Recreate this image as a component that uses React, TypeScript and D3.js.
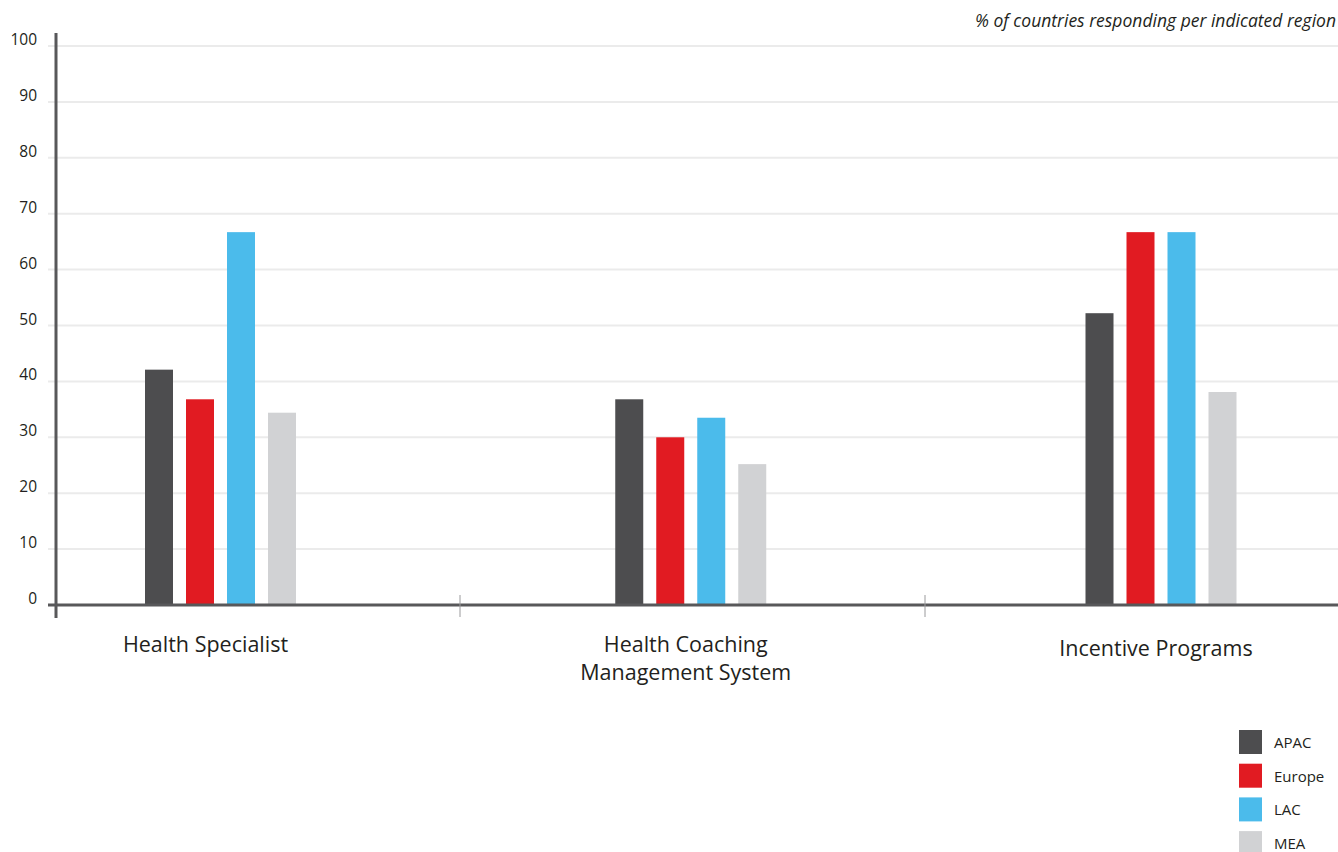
import React from "react";
import * as d3 from "d3";

const categories = ["Health Specialist", "Health Coaching\nManagement System", "Incentive Programs"];
const regions = ["APAC", "Europe", "LAC", "MEA"];
const apac = [42.1, 36.8, 52.2];
const europe = [36.8, 30.0, 66.7];
const lac = [66.7, 33.5, 66.7];
const mea = [34.4, 25.2, 38.1];
const yTicks = [0, 10, 20, 30, 40, 50, 60, 70, 80, 90, 100];
const colors = ["#4d4d4f", "#e11b22", "#4bbbeb", "#d1d2d4"];
const title = "% of countries responding per indicated region";

const W = 1338;
const H = 852;

export default function App() {
  const series = [apac, europe, lac, mea];
  const y = d3.scaleLinear().domain([0, 100]).range([605, 46]);
  const xGroup = d3.scalePoint<string>().domain(categories).range([220.5, 1161]);
  const xInner = d3.scaleBand<string>().domain(regions).range([-82, 82]).paddingInner(0);
  const bw = 28;
  const font = "'Open Sans', 'Noto Sans', sans-serif";
  const dividers = [460, 925];

  return (
    <svg width={W} height={H} style={{ position: "absolute", left: 0, top: 0, background: "#fff" }}>
      {yTicks.filter((t) => t > 0).map((t) => (
        <line key={"g" + t} x1={48} x2={W} y1={y(t)} y2={y(t)} stroke="#ebebeb" strokeWidth={2} />
      ))}
      {yTicks.map((t) => (
        <text key={"t" + t} x={37} y={y(t)} dy={-1} textAnchor="end" fontFamily={font} fontSize={15.5} fill="#231f20">
          {t}
        </text>
      ))}
      {categories.map((c, ci) =>
        series.map((s, si) => {
          const cx = (xGroup(c) as number) + (xInner(regions[si]) as number) + xInner.bandwidth() / 2;
          return (
            <rect key={c + si} x={cx - bw / 2} y={y(s[ci])} width={bw} height={y(0) - y(s[ci])} fill={colors[si]} />
          );
        })
      )}
      <line x1={56} x2={56} y1={33} y2={618} stroke="#58585a" strokeWidth={3} />
      <line x1={48} x2={W} y1={605} y2={605} stroke="#58585a" strokeWidth={3} />
      {dividers.map((d) => (
        <line key={d} x1={d} x2={d} y1={595} y2={617} stroke="#9a9a9c" strokeWidth={1} />
      ))}
      {categories.map((c, ci) => {
        const lines = c.split("\n");
        const cx = (xGroup(c) as number) - (ci === 0 ? 15 : 5);
        const y0 = lines.length > 1 ? 652 : 652 + (ci === 2 ? 4 : 0);
        return (
          <text key={c} x={cx} y={y0} textAnchor="middle" fontFamily={font} fontSize={21.5} fill="#231f20">
            {lines.map((l, li) => (
              <tspan key={li} x={cx} dy={li === 0 ? 0 : 28}>
                {l}
              </tspan>
            ))}
          </text>
        );
      })}
      <text x={1336} y={27} textAnchor="end" fontFamily={font} fontStyle="italic" fontSize={17.5} fill="#231f20">
        {title}
      </text>
      {regions.map((r, i) => (
        <g key={r} transform={`translate(1239, ${730 + i * 33.7})`}>
          <rect width={23} height={24} fill={colors[i]} />
          <text x={35} y={18} fontFamily={font} fontSize={15} fill="#231f20">
            {r}
          </text>
        </g>
      ))}
    </svg>
  );
}
